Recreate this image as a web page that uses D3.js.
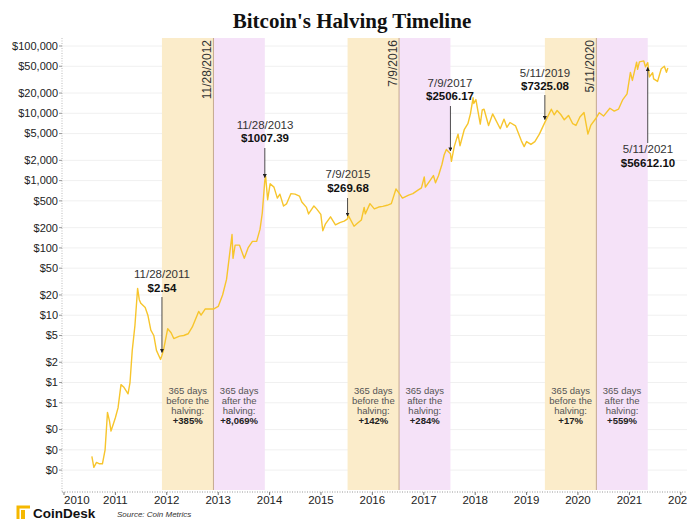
<!DOCTYPE html>
<html><head><meta charset="utf-8">
<script src="https://cdn.jsdelivr.net/npm/d3@7"></script>
<style>
html,body{margin:0;padding:0;background:#fff;}
svg{display:block;font-family:"Liberation Sans",Arial,sans-serif;}
</style></head>
<body><svg id="c" width="687" height="519"></svg>
<script>
// ---- data ----
const dates = ["2010-07-18","2010-08-01","2010-08-20","2010-09-10","2010-10-01","2010-10-20","2010-11-06","2010-11-20","2010-12-01","2010-12-20",
"2011-01-01","2011-01-20","2011-02-10","2011-03-01","2011-04-01","2011-04-15","2011-05-01","2011-05-20","2011-06-08","2011-06-20",
"2011-07-01","2011-08-01","2011-08-20","2011-09-10","2011-10-01","2011-10-20","2011-11-18","2011-11-28","2011-12-10","2012-01-08",
"2012-02-01","2012-02-20","2012-04-01","2012-05-01","2012-06-01","2012-07-01","2012-08-15","2012-09-01","2012-10-01","2012-11-28",
"2013-01-01","2013-02-01","2013-03-01","2013-04-09","2013-04-16","2013-05-01","2013-06-01","2013-07-05","2013-08-01","2013-09-01",
"2013-10-01","2013-10-25","2013-11-10","2013-11-28","2013-12-04","2013-12-18","2014-01-05","2014-02-01","2014-02-25","2014-03-15",
"2014-04-10","2014-05-01","2014-06-01","2014-07-01","2014-08-01","2014-08-18","2014-09-20","2014-10-05","2014-11-12","2014-12-01",
"2014-12-31","2015-01-14","2015-02-01","2015-03-10","2015-04-14","2015-05-15","2015-06-15","2015-07-09","2015-07-12","2015-08-24",
"2015-09-15","2015-10-15","2015-11-04","2015-11-12","2015-12-15","2016-01-15","2016-02-15","2016-03-15","2016-04-15","2016-05-15",
"2016-06-17","2016-07-09","2016-08-02","2016-09-15","2016-10-15","2016-11-15","2016-12-15","2017-01-04","2017-01-12","2017-02-15",
"2017-03-10","2017-03-25","2017-04-15","2017-05-10","2017-05-25","2017-06-10","2017-07-09","2017-07-16","2017-08-05","2017-09-01",
"2017-09-15","2017-10-15","2017-11-10","2017-11-28","2017-12-17","2017-12-22","2018-01-06","2018-02-06","2018-02-20","2018-03-05",
"2018-04-06","2018-05-05","2018-06-28","2018-07-25","2018-08-14","2018-09-05","2018-10-15","2018-11-25","2018-12-15","2019-01-01",
"2019-02-01","2019-03-01","2019-04-02","2019-05-11","2019-06-26","2019-07-16","2019-08-06","2019-09-01","2019-09-26","2019-10-26",
"2019-11-25","2019-12-18","2020-01-15","2020-02-13","2020-03-12","2020-04-01","2020-05-11","2020-06-01","2020-07-01","2020-08-15",
"2020-09-15","2020-10-15","2020-11-15","2020-12-15","2021-01-08","2021-01-22","2021-02-21","2021-02-28","2021-03-13","2021-04-13",
"2021-04-25","2021-05-11","2021-05-23","2021-06-15","2021-06-22","2021-07-20","2021-08-15","2021-09-06","2021-09-21","2021-10-01"];
const prices = [0.08,0.055,0.065,0.062,0.062,0.10,0.36,0.27,0.19,0.25,
0.30,0.42,0.93,0.86,0.68,1.0,3.0,7,25,17,
15,13,10,6,5,3,2.2,2.54,3.1,6.3,
5.5,4.5,4.9,5.0,5.3,6.7,11.4,10,12.4,12.35,
13.5,20,34,158,70,110,110,70,100,125,
125,190,330,1007.39,1150,520,900,800,550,630,
420,450,640,630,590,480,400,320,420,380,
315,180,225,290,220,237,250,269.68,310,210,
230,260,400,320,455,380,405,415,430,455,
750,650,550,610,640,710,780,1130,800,1010,
1190,930,1180,1750,2400,2900,2506.17,1930,3200,4900,
3300,5700,7000,9800,17000,14000,16000,6900,11200,11500,
6600,9800,5900,8200,6200,7300,6500,3900,3200,3800,
3450,3800,4900,7325.08,11500,9500,11000,9600,8000,9300,
7000,6600,8800,10300,4900,6600,8600,10200,9100,11900,
10800,11500,16000,19500,40500,30800,57500,45000,58000,60000,
49000,56612.10,34700,40000,32500,29800,46000,50000,40600,47000];

const yTicks = [100000,50000,20000,10000,5000,2000,1000,500,200,100,50,20,10,5,2,1,0.5,0.2,0.1,0.05];
const yTickLabels = ["$100,000","$50,000","$20,000","$10,000","$5,000","$2,000","$1,000","$500","$200","$100","$50","$20","$10","$5","$2","$1","$1","$0","$0","$0"];
const xYears = [2010,2011,2012,2013,2014,2015,2016,2017,2018,2019,2020,2021,2022];

const bandStarts = ["2011-11-28","2015-07-09","2019-05-11"];
const halvings = ["2012-11-28","2016-07-09","2020-05-11"];
const halvingLabels = ["11/28/2012","7/9/2016","5/11/2020"];
const bandEnds = ["2013-11-28","2017-07-09","2021-05-11"];
const beforePct = ["+385%","+142%","+17%"];
const afterPct = ["+8,069%","+284%","+559%"];

const annDates = ["2011-11-28","2013-11-28","2015-07-09","2017-07-09","2019-05-11","2021-05-11"];
const annDateLabels = ["11/28/2011","11/28/2013","7/9/2015","7/9/2017","5/11/2019","5/11/2021"];
const annPrices = [2.54,1007.39,269.68,2506.17,7325.08,56612.10];
const annPriceLabels = ["$2.54","$1007.39","$269.68","$2506.17","$7325.08","$56612.10"];

// ---- layout ----
const svg = d3.select("#c");
const pL = 62, pR = 687, pT = 38, pB = 490;
const pd = d3.utcParse("%Y-%m-%d");
const x = d3.scaleUtc().domain([new Date(Date.UTC(2010,0,1)), new Date(Date.UTC(2022,0,1))]).range([64, 680.8]);
const y = d3.scaleLog().domain([0.0253, 131500]).range([pB, pT]);

// grid
svg.append("g").selectAll("line").data(yTicks).join("line")
  .attr("x1", pL).attr("x2", pR).attr("y1", d=>y(d)).attr("y2", d=>y(d))
  .attr("stroke", "#f0f0f0").attr("stroke-width", 1);

// bands
const bands = svg.append("g");
bandStarts.forEach((s,i)=>{
  bands.append("rect").attr("x", x(pd(s))).attr("y", pT)
    .attr("width", x(pd(halvings[i])) - x(pd(s))).attr("height", pB-pT).attr("fill", "#fbecca");
  bands.append("rect").attr("x", x(pd(halvings[i]))).attr("y", pT)
    .attr("width", x(pd(bandEnds[i])) - x(pd(halvings[i]))).attr("height", pB-pT).attr("fill", "#f5e2f8");
  bands.append("line").attr("x1", x(pd(halvings[i]))).attr("x2", x(pd(halvings[i])))
    .attr("y1", pT).attr("y2", pB).attr("stroke", "#c4a98e").attr("stroke-width", 1);
  bands.append("text").attr("transform", `translate(${x(pd(halvings[i]))-2.5},${pT+2}) rotate(-90)`)
    .attr("text-anchor", "end").attr("font-size", 12).attr("fill", "#333").text(halvingLabels[i]);
  const cB = (x(pd(s)) + x(pd(halvings[i])))/2, cA = (x(pd(halvings[i])) + x(pd(bandEnds[i])))/2;
  [[cB,["365 days","before the","halving:"],beforePct[i]],[cA,["365 days","after the","halving:"],afterPct[i]]].forEach(([cx,lines,pct])=>{
    lines.forEach((t,j)=>bands.append("text").attr("x",cx).attr("y",394+j*10).attr("text-anchor","middle")
      .attr("font-size",9.5).attr("fill","#555").text(t));
    bands.append("text").attr("x",cx).attr("y",424).attr("text-anchor","middle")
      .attr("font-size",9.5).attr("font-weight","bold").attr("fill","#222").text(pct);
  });
});

// y axis
const ya = svg.append("g");
ya.append("line").attr("x1", pL).attr("x2", pL).attr("y1", pT).attr("y2", pB+2)
  .attr("stroke", "#bbb").attr("stroke-dasharray", "1,1.5");
yTicks.forEach((v,i)=>{
  ya.append("line").attr("x1", pL-3).attr("x2", pL).attr("y1", y(v)).attr("y2", y(v)).attr("stroke","#999");
  ya.append("text").attr("x", pL-4).attr("y", y(v)).attr("dy","0.35em").attr("text-anchor","end")
    .attr("font-size", 11).attr("fill","#222").text(yTickLabels[i]);
});

// x axis
const xa = svg.append("g");
xa.append("line").attr("x1", pL).attr("x2", pR).attr("y1", 492).attr("y2", 492)
  .attr("stroke", "#999").attr("stroke-dasharray", "1,1.5");
xYears.forEach((yr,i)=>{
  const xx = x(new Date(Date.UTC(yr,0,1)));
  xa.append("line").attr("x1", xx).attr("x2", xx).attr("y1", 492).attr("y2", 495).attr("stroke","#777");
  xa.append("text").attr("x", xx).attr("y", 504).attr("text-anchor", i===0 ? "start" : "middle")
    .attr("font-size", 11.5).attr("fill","#222").text(yr);
});

// price line
const series = dates.map((d,i)=>({d: pd(d), v: prices[i]}));
svg.append("path").datum(series)
  .attr("d", d3.line().x(d=>x(d.d)).y(d=>y(d.v)))
  .attr("fill","none").attr("stroke","#f7c52c").attr("stroke-width",1.4).attr("stroke-linejoin","round");

// annotations
const defs = svg.append("defs");
defs.append("marker").attr("id","ah").attr("viewBox","0 0 6 6").attr("refX",5).attr("refY",3)
  .attr("markerWidth",5).attr("markerHeight",5).attr("orient","auto")
  .append("path").attr("d","M0,0 L6,3 L0,6 Z").attr("fill","#222");
const annText = [[278,291.5],[128.5,142],[178,191.5],[86.5,100],[76.5,90],[153,166.5]];
const annArrowStart = [297,148,198,106,95,143];
const annX = [162,265,348,450,545,648];
annDates.forEach((d,i)=>{
  const ax = x(pd(d));
  svg.append("text").attr("x", annX[i]).attr("y", annText[i][0]).attr("text-anchor","middle")
    .attr("font-size", 11.5).attr("fill","#333").text(annDateLabels[i]);
  svg.append("text").attr("x", annX[i]).attr("y", annText[i][1]).attr("text-anchor","middle")
    .attr("font-size", 11.5).attr("font-weight","bold").attr("fill","#111").text(annPriceLabels[i]);
  const py = y(annPrices[i]);
  const yEnd = py + (py < annArrowStart[i] ? 5 : -3);
  svg.append("line").attr("x1", ax).attr("x2", ax).attr("y1", annArrowStart[i]).attr("y2", yEnd)
    .attr("stroke","#222").attr("stroke-width",0.8).attr("marker-end","url(#ah)");
});

// title
svg.append("text").attr("x", 352).attr("y", 28).attr("text-anchor","middle")
  .attr("font-family","'Liberation Serif','DejaVu Serif',serif").attr("font-weight","bold")
  .attr("font-size", 21).attr("fill","#111").text("Bitcoin's Halving Timeline");

// footer logo
const lg = svg.append("g");
lg.append("path").attr("d","M18,519 L18,507 L30,507").attr("fill","none").attr("stroke","#f5b800").attr("stroke-width",3);
lg.append("rect").attr("x",21).attr("y",510).attr("width",4).attr("height",9).attr("fill","#f5b800");
lg.append("text").attr("x",33).attr("y",517.5).attr("font-size",13.5).attr("font-weight","bold").attr("fill","#111").text("CoinDesk");
lg.append("text").attr("x",117).attr("y",516.5).attr("font-size",8).attr("font-style","italic").attr("fill","#333").text("Source: Coin Metrics");
</script></body></html>
